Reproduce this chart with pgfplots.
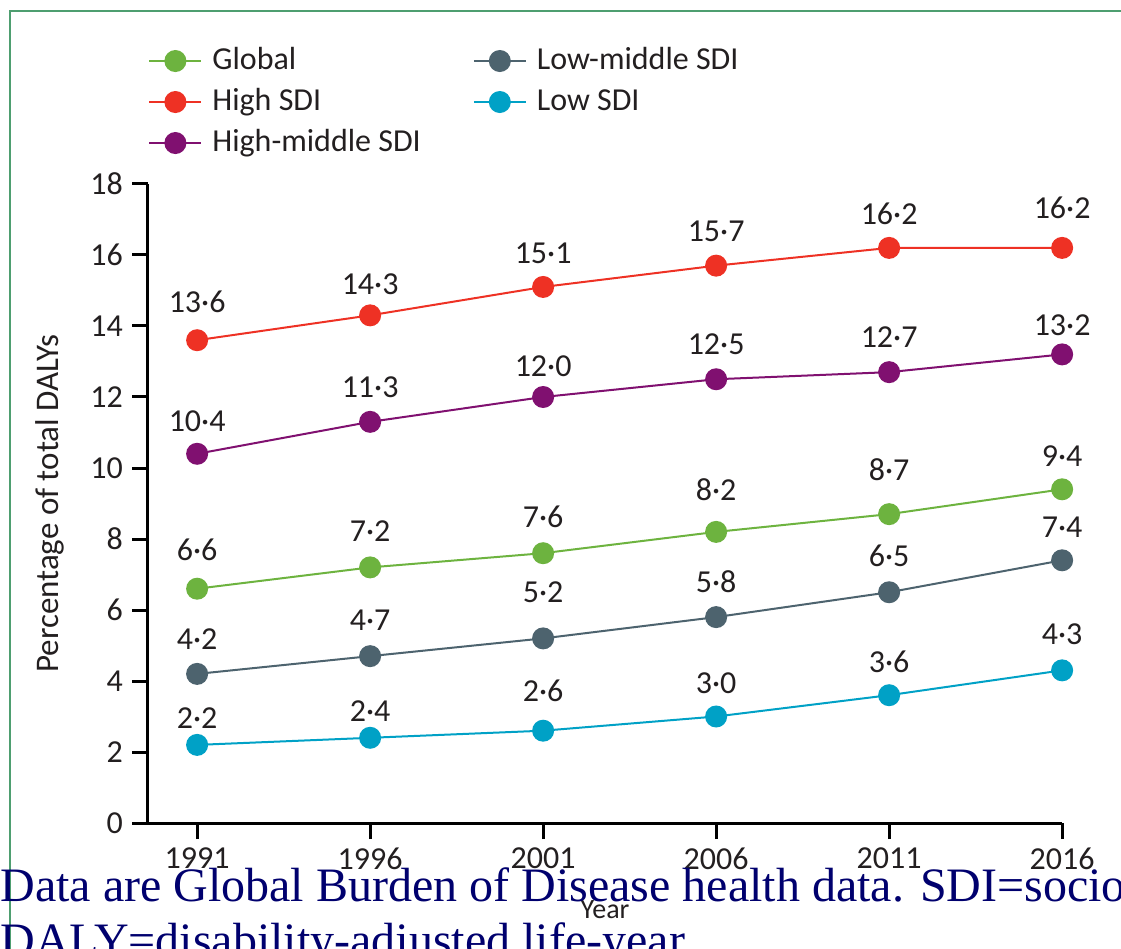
\documentclass[border=0pt]{standalone}
\usepackage{pgfplots}
\pgfplotsset{compat=1.18}
\usepackage{fontspec}
\setmainfont{Carlito}
\newfontfamily\capfont{Liberation Serif}
\definecolor{cglobal}{RGB}{109,179,63}
\definecolor{chigh}{RGB}{238,49,36}
\definecolor{chm}{RGB}{128,16,112}
\definecolor{clm}{RGB}{77,99,110}
\definecolor{clow}{RGB}{0,161,198}
\definecolor{cframe}{RGB}{78,158,112}
\definecolor{cnavy}{RGB}{0,0,110}
\definecolor{ctext}{RGB}{35,31,32}
\begin{document}
\begin{tikzpicture}
\path[use as bounding box] (0,0) rectangle (560.5pt,474.5pt);
\clip (0,0) rectangle (560.5pt,474.5pt);
\draw[cframe, line width=1pt] (5pt,-2pt) -- (5pt,469pt) -- (570pt,469pt);
\begin{axis}[
  at={(74pt,63pt)}, anchor=south west,
  x=17.3pt, y=17.75pt,
  xmin=1989.58, xmax=2016, ymin=0, ymax=18,
  axis lines=left,
  axis line style={-, line width=1.5pt, black},
  clip=false,
  xtick={1991,1996,2001,2006,2011,2016},
  ytick={0,2,...,18},
  tick align=outside,
  major tick length=8pt,
  tick style={line width=1.5pt, black},
  /pgf/number format/1000 sep={},
  /pgf/number format/assume math mode=true,
  ticklabel style={font=\fontsize{16}{16}\selectfont, text=ctext},
  yticklabel style={xshift=-1pt},
  xticklabel style={yshift=-1pt},
  xlabel={Year},
  xlabel style={font=\fontsize{14}{14}\selectfont, text=ctext, at={(axis description cs:0.5,0)}, anchor=center, yshift=-43.5pt},
  ylabel={Percentage of total DALYs},
  ylabel style={font=\fontsize{16.5}{16.5}\selectfont, text=ctext, at={(axis description cs:-0.107,0.5)}, anchor=center},
  every axis plot/.append style={line width=1pt, mark=*, mark size=5pt},
  legend style={draw=none, fill=none, at={(axis description cs:0,1.215)}, anchor=north west,
    inner sep=0pt, font=\fontsize{16}{16}\selectfont, text=ctext,
    nodes={inner sep=0pt, text height=11pt, text depth=3pt},
    row sep=6.5pt,
    /tikz/every odd column/.append style={column sep=5pt},
    /tikz/every even column/.append style={column sep=26pt}},
  legend columns=2,
  legend cell align=left,
  legend image code/.code={\draw[mark repeat=2,mark phase=2,#1] plot coordinates {(0pt,0pt) (13pt,0pt) (26pt,0pt)};},
]
\addplot[cglobal] coordinates {(1991,6.6) (1996,7.2) (2001,7.6) (2006,8.2) (2011,8.7) (2016,9.4)};
\addlegendentry{Global}
\addplot[clm] coordinates {(1991,4.2) (1996,4.7) (2001,5.2) (2006,5.8) (2011,6.5) (2016,7.4)};
\addlegendentry{Low-middle SDI}
\addplot[chigh] coordinates {(1991,13.6) (1996,14.3) (2001,15.1) (2006,15.7) (2011,16.2) (2016,16.2)};
\addlegendentry{High SDI}
\addplot[clow] coordinates {(1991,2.2) (1996,2.4) (2001,2.6) (2006,3.0) (2011,3.6) (2016,4.3)};
\addlegendentry{Low SDI}
\addplot[chm] coordinates {(1991,10.4) (1996,11.3) (2001,12.0) (2006,12.5) (2011,12.7) (2016,13.2)};
\addlegendentry{High-middle SDI}
\addplot[forget plot, only marks, mark=none, nodes near coords, point meta=explicit symbolic,
  every node near coord/.append style={anchor=center, font=\fontsize{16}{16}\selectfont, text=ctext}]
  table[meta=label] {
x y label
1991 14.68 13·6
1996 15.18 14·3
2001 16.06 15·1
2006 16.68 15·7
2011 17.15 16·2
2016 17.32 16·2
1991 11.32 10·4
1996 12.28 11·3
2001 12.87 12·0
2006 13.49 12·5
2011 13.69 12·7
2016 14.03 13·2
1991 7.69 6·6
1996 8.23 7·2
2001 8.62 7·6
2006 9.38 8·2
2011 9.94 8·7
2016 10.34 9·4
1991 5.18 4·2
1996 5.72 4·7
2001 6.51 5·2
2006 6.79 5·8
2011 7.52 6·5
2016 8.34 7·4
1991 2.96 2·2
1996 3.15 2·4
2001 3.72 2·6
2006 3.94 3·0
2011 4.54 3·6
2016 5.32 4·3
};
\end{axis}
\node[anchor=base west, inner sep=0pt, text=cnavy, font=\capfont\fontsize{24}{24}\selectfont] at (0pt,23.5pt) {\scalebox{1.0}[1]{Data are Global Burden of Disease health data. SDI=sociodemographic index.}};
\node[anchor=base west, inner sep=0pt, text=cnavy, font=\capfont\fontsize{24}{24}\selectfont] at (0pt,-4pt) {\scalebox{1.0}[1]{DALY=disability-adjusted life-year.}};
\end{tikzpicture}
\end{document}
